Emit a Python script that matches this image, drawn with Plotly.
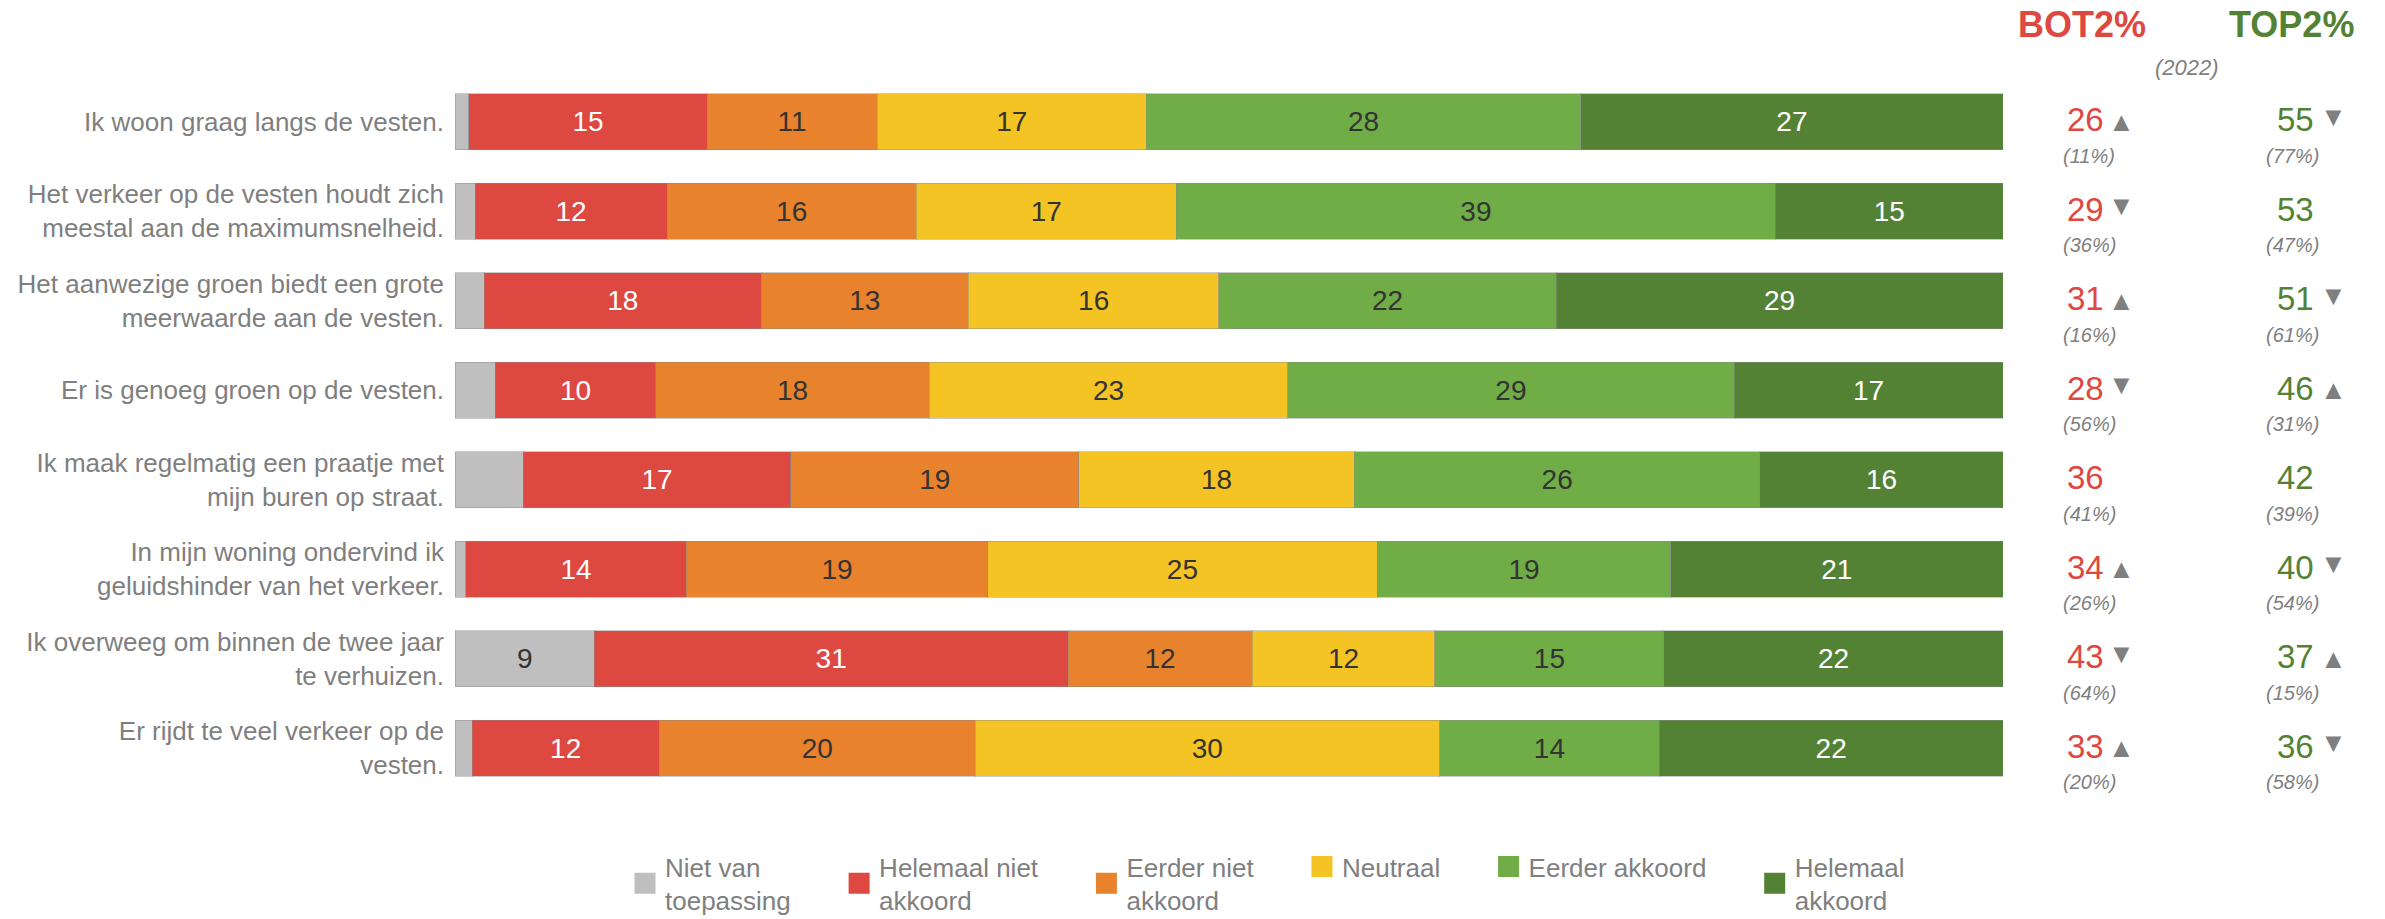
import plotly.graph_objects as go

# ---------------- data ----------------
statements = [
    "Ik woon graag langs de vesten.",
    "Het verkeer op de vesten houdt zich<br>meestal aan de maximumsnelheid.",
    "Het aanwezige groen biedt een grote<br>meerwaarde aan de vesten.",
    "Er is genoeg groen op de vesten.",
    "Ik maak regelmatig een praatje met<br>mijn buren op straat.",
    "In mijn woning ondervind ik<br>geluidshinder van het verkeer.",
    "Ik overweeg om binnen de twee jaar<br>te verhuizen.",
    "Er rijdt te veel verkeer op de<br>vesten.",
]

categories = ["Niet van<br>toepassing", "Helemaal niet<br>akkoord", "Eerder niet<br>akkoord",
              "Neutraal", "Eerder akkoord", "Helemaal<br>akkoord"]

niet_van_toepassing = [0.9, 1.3, 1.9, 2.6, 4.4, 0.7, 9.0, 1.1]
helemaal_niet_akkoord = [15.4, 12.4, 17.9, 10.4, 17.3, 14.2, 30.6, 12.1]
eerder_niet_akkoord = [11.0, 16.1, 13.4, 17.7, 18.6, 19.4, 11.9, 20.4]
neutraal = [17.4, 16.8, 16.2, 23.2, 17.8, 25.1, 11.8, 30.0]
eerder_akkoord = [28.1, 38.7, 21.8, 28.9, 26.2, 18.9, 14.8, 14.2]
helemaal_akkoord = [27.3, 14.7, 28.9, 17.4, 15.7, 21.4, 21.9, 22.2]

bot2 = [26, 29, 31, 28, 36, 34, 43, 33]
bot2_2022 = [11, 36, 16, 56, 41, 26, 64, 20]
bot2_trend = ["up", "down", "up", "down", "", "up", "down", "up"]

top2 = [55, 53, 51, 46, 42, 40, 37, 36]
top2_2022 = [77, 47, 61, 31, 39, 54, 15, 58]
top2_trend = ["down", "", "down", "up", "", "down", "up", "down"]

# ---------------- style ----------------
colors = ["#BFBFBF", "#DD4841", "#E8822D", "#F4C324", "#70AD47", "#548235"]
text_colors = ["#333333", "#FFFFFF", "#333333", "#333333", "#333333", "#FFFFFF"]
RED = "#DD4841"
GREEN = "#548235"
GREY = "#7F7F7F"
FONT = "Liberation Sans, Arial, sans-serif"

W, H = 2385, 919
ML, MR, MT, MB = 455, 382, 77, 126
PW = W - ML - MR
PH = H - MT - MB


def px_x(px):
    return (px - ML) / PW


def px_y(py):
    return 1 - (py - MT) / PH


series = [niet_van_toepassing, helemaal_niet_akkoord, eerder_niet_akkoord,
          neutraal, eerder_akkoord, helemaal_akkoord]
rows = list(range(len(statements)))
PAD = "\u00a0" * 6

fig = go.Figure()
for name, vals, col, tcol in zip(categories, series, colors, text_colors):
    labels = [str(int(round(v))) if v >= 5 else "" for v in vals]
    fig.add_trace(go.Bar(
        y=rows, x=vals, orientation="h", name=name,
        marker=dict(color=col, line=dict(color="rgba(140,140,140,0.45)", width=1)),
        width=0.626,
        text=labels, textposition="inside", insidetextanchor="middle",
        textangle=0,
        textfont=dict(family=FONT, size=28, color=tcol),
        showlegend=False, hoverinfo="skip",
    ))
    # legend entry
    legend_name = (PAD + "<br>").join(name.split("<br>")) + PAD
    fig.add_trace(go.Scatter(
        x=[None], y=[None], mode="markers", name=legend_name,
        marker=dict(symbol="square", size=16, color=col, line=dict(color=col, width=5)),
        showlegend=True,
    ))

annotations = []
arrow = {"up": "\u25B2", "down": "\u25BC"}
for i in rows:
    # BOT2%
    annotations.append(dict(x=px_x(2085), y=i, xref="paper", yref="y", text=str(bot2[i]),
                            showarrow=False, font=dict(family=FONT, size=33, color=RED),
                            xanchor="center", yanchor="middle", yshift=2))
    annotations.append(dict(x=px_x(2089), y=i, xref="paper", yref="y", text=f"<i>({bot2_2022[i]}%)</i>",
                            showarrow=False, font=dict(family=FONT, size=20, color=GREY),
                            xanchor="center", yanchor="middle", yshift=-34))
    if bot2_trend[i]:
        annotations.append(dict(x=px_x(2121), y=i, xref="paper", yref="y", text=arrow[bot2_trend[i]],
                                showarrow=False, font=dict(family=FONT, size=27, color=GREY),
                                xanchor="center", yanchor="middle",
                                yshift=0 if bot2_trend[i] == "up" else 5))
    # TOP2%
    annotations.append(dict(x=px_x(2295), y=i, xref="paper", yref="y", text=str(top2[i]),
                            showarrow=False, font=dict(family=FONT, size=33, color=GREEN),
                            xanchor="center", yanchor="middle", yshift=2))
    annotations.append(dict(x=px_x(2292), y=i, xref="paper", yref="y", text=f"<i>({top2_2022[i]}%)</i>",
                            showarrow=False, font=dict(family=FONT, size=20, color=GREY),
                            xanchor="center", yanchor="middle", yshift=-34))
    if top2_trend[i]:
        annotations.append(dict(x=px_x(2333), y=i, xref="paper", yref="y", text=arrow[top2_trend[i]],
                                showarrow=False, font=dict(family=FONT, size=27, color=GREY),
                                xanchor="center", yanchor="middle",
                                yshift=0 if top2_trend[i] == "up" else 5))

annotations += [
    dict(x=px_x(2082), y=px_y(24), xref="paper", yref="paper", text="<b>BOT2%</b>", showarrow=False,
         font=dict(family=FONT, size=36, color=RED), xanchor="center", yanchor="middle"),
    dict(x=px_x(2291), y=px_y(24), xref="paper", yref="paper", text="<b>TOP2%</b>", showarrow=False,
         font=dict(family=FONT, size=36, color=GREEN), xanchor="center", yanchor="middle"),
    dict(x=px_x(2187), y=px_y(67), xref="paper", yref="paper", text="<i>(2022)</i>", showarrow=False,
         font=dict(family=FONT, size=22, color=GREY), xanchor="center", yanchor="middle"),
]

fig.update_layout(
    width=W, height=H,
    margin=dict(l=ML, r=MR, t=MT, b=MB, pad=0, autoexpand=False),
    barmode="stack", barnorm="percent",
    plot_bgcolor="white", paper_bgcolor="white",
    font=dict(family=FONT, color=GREY),
    xaxis=dict(range=[0, 100], visible=False, fixedrange=True),
    yaxis=dict(range=[len(rows) - 0.5, -0.5], tickvals=rows, ticktext=statements,
               showgrid=False, zeroline=False, showline=False, ticks="",
               ticklabelstandoff=10, automargin=False, fixedrange=True,
               tickfont=dict(family=FONT, size=26, color=GREY)),
    legend=dict(orientation="h", x=px_x(625), xanchor="left", y=px_y(843), yanchor="top",
                font=dict(family=FONT, size=26, color=GREY), valign="middle",
                traceorder="normal", bgcolor="rgba(0,0,0,0)"),
    annotations=annotations,
    showlegend=True,
    hovermode=False,
)

fig.write_html(
    "out.html",
    config={"displayModeBar": False},
    post_script="document.body.style.margin='0';document.body.style.overflow='hidden';",
)
